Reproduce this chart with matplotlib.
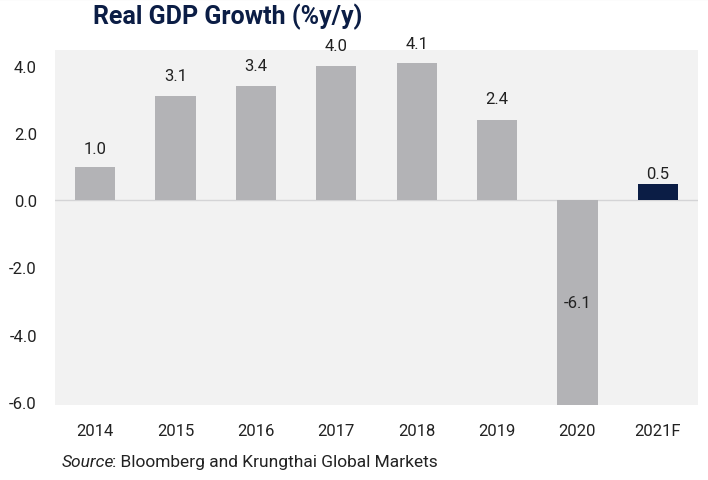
import matplotlib.pyplot as plt
from matplotlib.lines import Line2D

# data
years = ['2014', '2015', '2016', '2017', '2018', '2019', '2020', '2021F']
growth = [1.0, 3.1, 3.4, 4.0, 4.1, 2.4, -6.1, 0.5]

plt.rcParams['font.family'] = ['Roboto', 'DejaVu Sans']

bar_colors = ['#b3b3b6'] * 7 + ['#0b1d45']
# label offsets above bar top (pixels); the reference places them by hand
label_offsets = [18, 21, 21, 21, 19, 21, 0, 10]

fig = plt.figure(figsize=(7.08, 4.81), dpi=100)
ax = fig.add_axes([55 / 708, 1 - 406 / 481, 643 / 708, 355 / 481])
ax.set_facecolor('#f2f2f2')

x = range(len(years))
ax.bar(x, growth, width=0.5, color=bar_colors, zorder=2)
ax.axhline(0, color='#d4d4d6', lw=1, zorder=1)

for i, v in enumerate(growth):
    if v < 0:
        ax.text(i, v / 2, f'{v:.1f}', ha='center', va='center', fontsize=12,
                color='#222222', zorder=3)
    else:
        ax.annotate(f'{v:.1f}', xy=(i, v), xytext=(0, label_offsets[i] * 0.72),
                    textcoords='offset points', ha='center', va='center',
                    fontsize=12, color='#222222', annotation_clip=False)

ax.set_xlim(-0.5, len(years) - 0.5)
ax.set_ylim(-6.1, 4.48)
ax.set_yticks([4, 2, 0, -2, -4, -6])
ax.set_yticklabels([f'{t:.1f}' for t in [4, 2, 0, -2, -4, -6]])
ax.set_xticks(list(x))
ax.set_xticklabels(years)
ax.tick_params(length=0, labelsize=12, colors='#222222')
ax.tick_params(axis='y', pad=13)
ax.tick_params(axis='x', pad=13)
for s in ax.spines.values():
    s.set_visible(False)

fig.text(93 / 708, 1 - 17 / 481, 'Real GDP Growth (%y/y)', fontsize=18,
         fontweight='bold', color='#0b1d45', va='center', ha='left')
fig.text(62 / 708, 1 - 463 / 481, 'Source', fontsize=12.5, style='italic',
         color='#222222', va='center', ha='left')
fig.text(112 / 708, 1 - 463 / 481, ': Bloomberg and Krungthai Global Markets',
         fontsize=12.5, color='#222222', va='center', ha='left')
fig.add_artist(Line2D([0, 1], [0.999, 0.999], color='#bbbbbb', lw=1.5))

fig.savefig('out.png', dpi=100)
